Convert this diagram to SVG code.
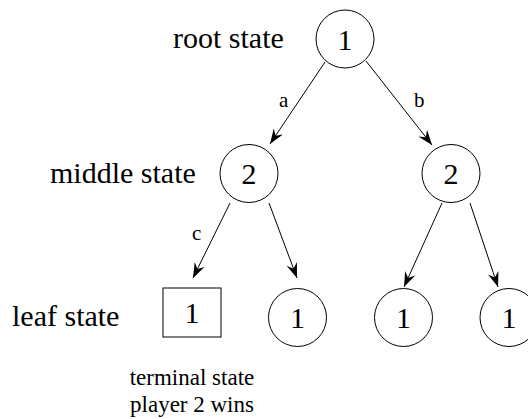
<svg xmlns="http://www.w3.org/2000/svg" width="528" height="419" viewBox="0 0 528 419">
  <style>
    text { font-family: 'Liberation Serif', 'Times New Roman', serif; fill: #000; }
    .node { fill: #fff; stroke: #000; stroke-width: 1; }
    .num { font-size: 30px; text-anchor: middle; }
    .lbl { font-size: 30px; }
    .edge-lbl { font-size: 21px; }
    .note { font-size: 23px; text-anchor: middle; }
    .edge { stroke: #000; stroke-width: 1; fill: none; marker-end: url(#arrow); }
  </style>
  <defs>
    <marker id="arrow" markerUnits="userSpaceOnUse" markerWidth="20" markerHeight="14" viewBox="-16 -7 18 14" refX="0" refY="0" orient="auto">
      <path d="M0,0 L-15,-5.5 L-10,0 L-15,5.5 Z" fill="#000"/>
    </marker>
  </defs>

  <!-- row labels -->
  <text class="lbl" x="173" y="48">root state</text>
  <text class="lbl" x="50" y="183">middle state</text>
  <text class="lbl" x="12" y="326">leaf state</text>

  <!-- connectors -->
  <g id="edges">
    <line class="edge" x1="325" y1="62" x2="270" y2="144"/>
    <line class="edge" x1="366" y1="61" x2="432" y2="145"/>
    <line class="edge" x1="230" y1="203" x2="193" y2="278"/>
    <line class="edge" x1="269" y1="203" x2="297" y2="278"/>
    <line class="edge" x1="442" y1="203" x2="404" y2="287"/>
    <line class="edge" x1="470" y1="203" x2="498" y2="287"/>
    <text class="edge-lbl" x="279" y="107">a</text>
    <text class="edge-lbl" x="414" y="107">b</text>
    <text class="edge-lbl" x="192" y="240">c</text>
  </g>

  <g id="root">
    <circle class="node" cx="345" cy="39" r="29"/>
    <text class="num" x="345" y="49.5">1</text>
  </g>
  <g id="mid-left">
    <circle class="node" cx="249" cy="173.5" r="29"/>
    <text class="num" x="249" y="184">2</text>
  </g>
  <g id="mid-right">
    <circle class="node" cx="451" cy="173.5" r="29"/>
    <text class="num" x="451" y="184">2</text>
  </g>
  <g id="leaf-terminal">
    <rect class="node" x="163" y="288" width="58" height="49"/>
    <text class="num" x="192" y="323">1</text>
  </g>
  <g id="leaf-2">
    <circle class="node" cx="297.5" cy="317.5" r="29"/>
    <text class="num" x="297.5" y="328">1</text>
  </g>
  <g id="leaf-3">
    <circle class="node" cx="403.5" cy="317.5" r="29"/>
    <text class="num" x="403.5" y="328">1</text>
  </g>
  <g id="leaf-4">
    <circle class="node" cx="509" cy="317.5" r="29"/>
    <text class="num" x="509" y="328">1</text>
  </g>

  <!-- caption under the terminal leaf -->
  <text class="note" x="192" y="385">terminal state</text>
  <text class="note" x="192" y="412">player 2 wins</text>
</svg>
